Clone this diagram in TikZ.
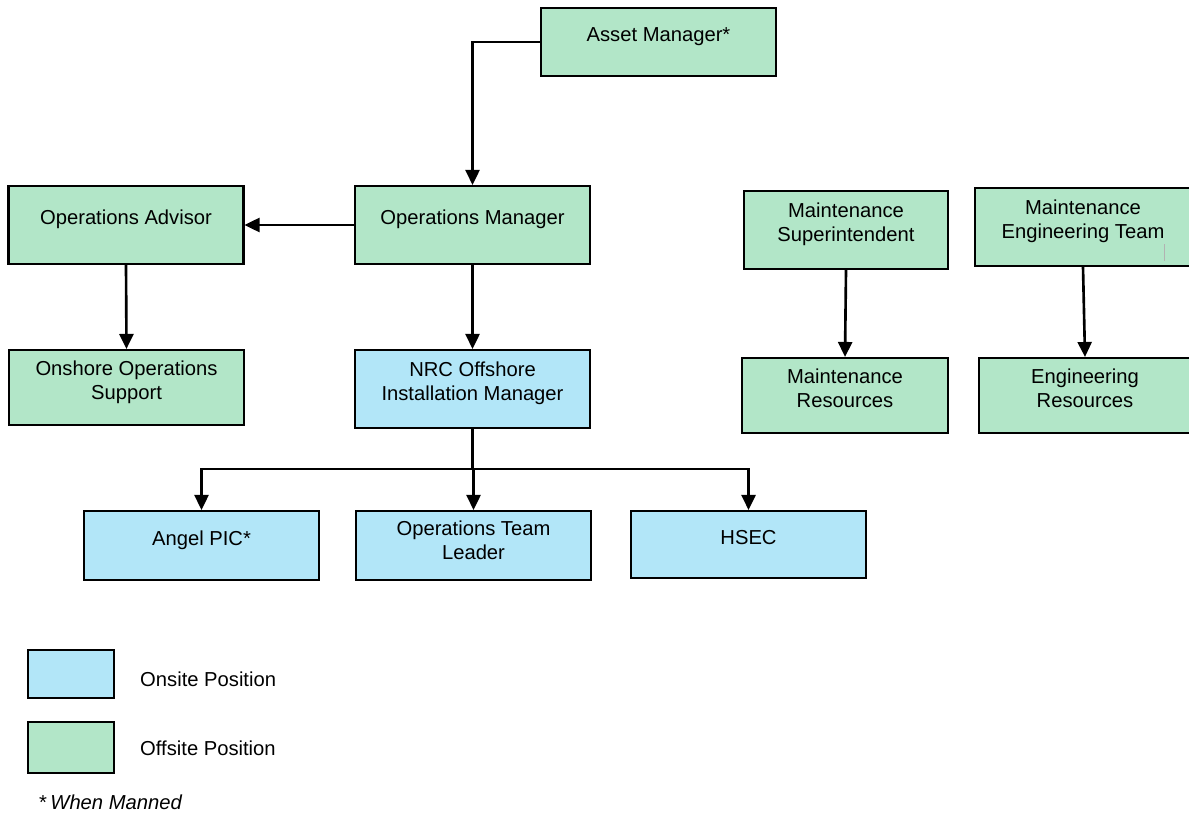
\documentclass[tikz,border=0pt]{standalone}
\usepackage{fontspec}
\setmainfont{Liberation Sans}
\usetikzlibrary{arrows.meta, positioning}
\definecolor{offsitecolor}{RGB}{178,230,200}
\definecolor{onsitecolor}{RGB}{178,230,248}

\begin{document}
\begin{tikzpicture}[x=0.02cm, y=-0.02cm,
    font=\fontsize{11.5}{13.6}\selectfont,
    post/.style={rectangle, draw, line width=1.2pt, align=center, text depth=0.3cm, minimum width=4.7cm, minimum height=1.56cm},
    offsite/.style={post, fill=offsitecolor},
    onsite/.style={post, fill=onsitecolor},
    arrow/.style={-{Triangle[length=0.3cm, width=0.28cm]}, line width=1.5pt}]

    \useasboundingbox (0,0) rectangle (1189,814);

    % Nodes
    \node [offsite, minimum height=1.36cm] (asset) at (658.5,42) {Asset Manager*};
    \node [offsite] (advisor) at (126,225) {Operations Advisor};
    \node [offsite] (opsmgr) at (472.5,225) {Operations Manager};
    \node [offsite, minimum height=1.5cm] (onshore) at (126.5,387.5) {Onshore Operations\\Support};
    \node [onsite] (nrc) at (472.5,389) {NRC Offshore\\Installation Manager};
    \node [offsite, minimum width=4.08cm] (maintsup) at (846,230) {Maintenance\\Superintendent};
    \node [offsite, minimum width=4.32cm] (maintengteam) at (1083,227) {Maintenance\\Engineering Team};
    \node [offsite, minimum width=4.12cm, minimum height=1.5cm] (maintres) at (845,395.5) {Maintenance\\Resources};
    \node [offsite, minimum width=4.24cm, minimum height=1.5cm] (engres) at (1085,395.5) {Engineering\\Resources};
    \node [onsite, minimum height=1.38cm] (angel) at (201.5,545.5) {Angel PIC*};
    \node [onsite, minimum height=1.38cm, text depth=0.2cm] (otl) at (473.5,545.5) {Operations Team\\Leader};
    \node [onsite, minimum height=1.34cm] (hsec) at (748.5,544.5) {HSEC};
    \coordinate (split) at (472.5,469);

    % Arrows
    \draw [arrow] (asset.west) -| (opsmgr.north);
    \draw [arrow] (opsmgr.west) -- (advisor.east);
    \draw [arrow] (advisor.south) -- (onshore.north);
    \draw [arrow] (opsmgr.south) -- (nrc.north);
    \draw [line width=1.5pt] (nrc.south) -- (split);
    \draw [arrow] (split) -| (angel.north);
    \draw [arrow] (split) -| (otl.north);
    \draw [arrow] (split) -| (hsec.north);
    \draw [arrow] (maintsup.south) -- (maintres.north);
    \draw [arrow] (maintengteam.south) -- (engres.north);
    \draw [gray!60, line width=0.5pt] (1164,244) -- (1164,261);

    % Legend
    \node [rectangle, draw, line width=1.2pt, fill=onsitecolor, minimum width=1.72cm, minimum height=0.96cm] (onkey) at (71,674) {};
    \node [rectangle, draw, line width=1.2pt, fill=offsitecolor, minimum width=1.72cm, minimum height=1.02cm] (offkey) at (71,747.5) {};
    \node [anchor=west] (ontext) at (134,679) {Onsite Position};
    \node [anchor=west] (offtext) at (134,748) {Offsite Position};
    \node [anchor=west] (note) at (33,802) {*\,\textit{When Manned}};

\end{tikzpicture}
\end{document}
